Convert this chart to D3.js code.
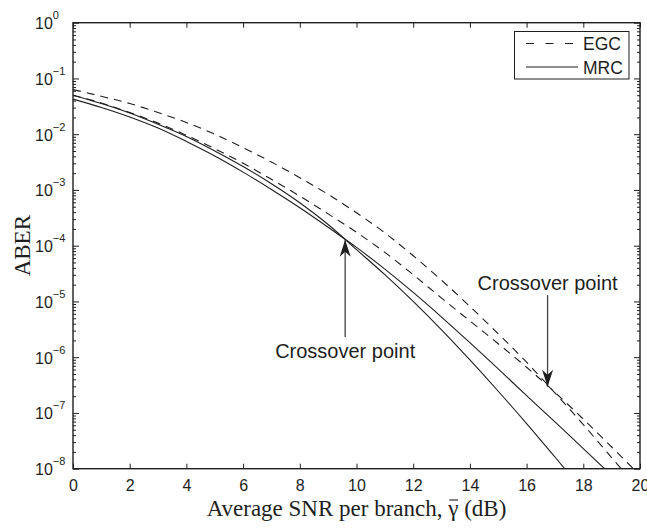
<!DOCTYPE html>
<html><head><meta charset="utf-8">
<script src="https://cdn.jsdelivr.net/npm/d3@7"></script>
<style>body{margin:0;background:#fff}</style>
</head><body><svg id="c" width="647" height="532"></svg>
<script>
// ---- data ----
const snr = [0,1,2,3,4,5,6,7,8,9,10,11,12,13,14,15,16,17,18,19,20];
const egc1 = [6.31e-2,4.79e-2,3.55e-2,2.45e-2,1.62e-2,1.00e-2,5.75e-3,3.16e-3,1.66e-3,8.32e-4,3.89e-4,1.70e-4,6.61e-5,2.40e-5,8.13e-6,2.63e-6,8.13e-7,2.29e-7,6.17e-8,1.58e-8,3.98e-9];
const egc2 = [5.01e-2,3.63e-2,2.45e-2,1.58e-2,9.55e-3,5.50e-3,3.02e-3,1.55e-3,7.76e-4,3.72e-4,1.74e-4,7.59e-5,3.02e-5,1.15e-5,4.47e-6,1.74e-6,6.61e-7,2.34e-7,7.76e-8,2.45e-8,7.59e-9];
const mrc1 = [5.01e-2,3.55e-2,2.40e-2,1.51e-2,9.12e-3,5.01e-3,2.63e-3,1.29e-3,5.89e-4,2.40e-4,8.51e-5,3.02e-5,1.00e-5,3.09e-6,8.91e-7,2.45e-7,6.46e-8,1.62e-8,3.98e-9];
const mrc2 = [4.27e-2,3.02e-2,2.04e-2,1.29e-2,7.41e-3,4.07e-3,2.09e-3,1.02e-3,4.79e-4,2.14e-4,9.33e-5,3.80e-5,1.45e-5,5.25e-6,1.82e-6,6.17e-7,2.04e-7,6.92e-8,2.29e-8,7.59e-9];
const xTicks = [0,2,4,6,8,10,12,14,16,18,20];
const yExponents = [0,-1,-2,-3,-4,-5,-6,-7,-8];
const legendLabels = ["EGC","MRC"];
const crossovers = [
  {snr: 9.6, aber: 1.28e-4, tail: 2.3e-6, label: "Crossover point", below: true},
  {snr: 16.74, aber: 2.95e-7, tail: 1.3e-5, label: "Crossover point", below: false}
];

// ---- layout ----
const L = 73, R = 640, T = 22.7, B = 468.7;
const ink = "#1e1e1e";
const sans = "'Liberation Sans', Arial, Helvetica, sans-serif";
const serif = "'Liberation Serif', 'Times New Roman', serif";

const svg = d3.select("#c");
const x = d3.scaleLinear().domain([0,20]).range([L,R]);
const y = d3.scaleLog().domain([1e-8,1]).range([B,T]);

svg.append("defs").append("clipPath").attr("id","clip")
  .append("rect").attr("x",L).attr("y",T).attr("width",R-L).attr("height",B-T);

// axes
const majors = yExponents.map(e => Math.pow(10,e));
const minors = [];
yExponents.slice(1).forEach(e => { for (let m=2;m<=9;m++) minors.push(m*Math.pow(10,e)); });

function styleAxis(g){
  g.select(".domain").remove();
  g.selectAll(".tick line").attr("stroke",ink).attr("stroke-width",1);
}
svg.append("g").attr("transform",`translate(0,${B})`)
  .call(d3.axisBottom(x).tickValues(xTicks).tickSize(-5).tickPadding(11).tickFormat(d3.format("d")))
  .call(styleAxis)
  .call(g => g.selectAll("text").attr("font-family",sans).attr("font-size",16).attr("fill",ink));
svg.append("g").attr("transform",`translate(0,${T})`)
  .call(d3.axisTop(x).tickValues(xTicks).tickSize(-5).tickFormat(""))
  .call(styleAxis);
svg.append("g").attr("transform",`translate(${L},0)`)
  .call(d3.axisLeft(y).tickValues(majors).tickSize(-6).tickFormat(""))
  .call(styleAxis);
svg.append("g").attr("transform",`translate(${L},0)`)
  .call(d3.axisLeft(y).tickValues(minors).tickSize(-3).tickFormat(""))
  .call(styleAxis);
svg.append("g").attr("transform",`translate(${R},0)`)
  .call(d3.axisRight(y).tickValues(majors).tickSize(-6).tickFormat(""))
  .call(styleAxis);
svg.append("g").attr("transform",`translate(${R},0)`)
  .call(d3.axisRight(y).tickValues(minors).tickSize(-3).tickFormat(""))
  .call(styleAxis);

// y tick labels 10^e
yExponents.forEach(e => {
  const t = svg.append("text").attr("x",35).attr("y",y(Math.pow(10,e))+6.5)
    .attr("font-family",sans).attr("font-size",16).attr("fill",ink);
  t.append("tspan").text("10");
  t.append("tspan").attr("dy",-10).attr("font-size",11)
    .text(e===0 ? "0" : "\u2212"+Math.abs(e));
});

// curves
const line = d3.line().x(d=>x(d[0])).y(d=>y(d[1])).curve(d3.curveMonotoneX);
const series = [
  {v: egc1, dash: "8,6"},
  {v: egc2, dash: "8,6"},
  {v: mrc1, dash: null},
  {v: mrc2, dash: null}
];
const plot = svg.append("g").attr("clip-path","url(#clip)");
series.forEach(s => {
  plot.append("path").datum(s.v.map((v,i)=>[snr[i],v]))
    .attr("d",line).attr("fill","none").attr("stroke",ink).attr("stroke-width",1.1)
    .attr("stroke-dasharray",s.dash);
});

// frame
svg.append("rect").attr("x",L).attr("y",T).attr("width",R-L).attr("height",B-T)
  .attr("fill","none").attr("stroke",ink).attr("stroke-width",1.4);

// annotations
crossovers.forEach(c => {
  const px = x(c.snr), tipY = y(c.aber), tailY = y(c.tail);
  svg.append("line").attr("x1",px).attr("x2",px).attr("y1",tailY).attr("y2",tipY)
    .attr("stroke","#444").attr("stroke-width",1.3);
  const dir = tipY < tailY ? 1 : -1;
  svg.append("path")
    .attr("d",`M${px},${tipY} L${px-5.5},${tipY+dir*17} L${px},${tipY+dir*12} L${px+5.5},${tipY+dir*17} Z`)
    .attr("fill","#1e1e1e");
  svg.append("text").attr("x",px).attr("y", c.below ? tailY+20.5 : tailY-5)
    .attr("text-anchor","middle").attr("font-family",sans).attr("font-size",20)
    .attr("fill",ink).text(c.label);
});

// legend
const lg = svg.append("g");
lg.append("rect").attr("x",514.5).attr("y",31.5).attr("width",114.5).attr("height",47.5)
  .attr("fill","#fff").attr("stroke",ink).attr("stroke-width",1);
legendLabels.forEach((lab,i) => {
  const cy = 43.5 + i*23.5;
  lg.append("line").attr("x1",526).attr("x2",578).attr("y1",cy).attr("y2",cy)
    .attr("stroke",ink).attr("stroke-width",1.1).attr("stroke-dasharray", i===0 ? "8,11.5" : null);
  lg.append("text").attr("x",583).attr("y",cy+6.5).attr("font-family",sans).attr("font-size",17.5)
    .attr("fill",ink).text(lab);
});

// axis titles
const xl = svg.append("text").attr("x",(L+R)/2).attr("y",516).attr("text-anchor","middle")
  .attr("font-family",serif).attr("font-size",23).attr("fill",ink)
  .text("Average SNR per branch, \u03B3 (dB)");
// overline on gamma
const node = xl.node();
const str = node.textContent;
const gi = str.indexOf("\u03B3");
const sp = node.getStartPositionOfChar(gi), ep = node.getEndPositionOfChar(gi);
svg.append("line").attr("x1",sp.x+1).attr("x2",ep.x-0.5).attr("y1",500).attr("y2",500)
  .attr("stroke",ink).attr("stroke-width",1.1);

svg.append("text").attr("transform",`translate(30,${(T+B)/2}) rotate(-90)`)
  .attr("text-anchor","middle").attr("font-family",serif).attr("font-size",23)
  .attr("fill",ink).text("ABER");
</script></body></html>
